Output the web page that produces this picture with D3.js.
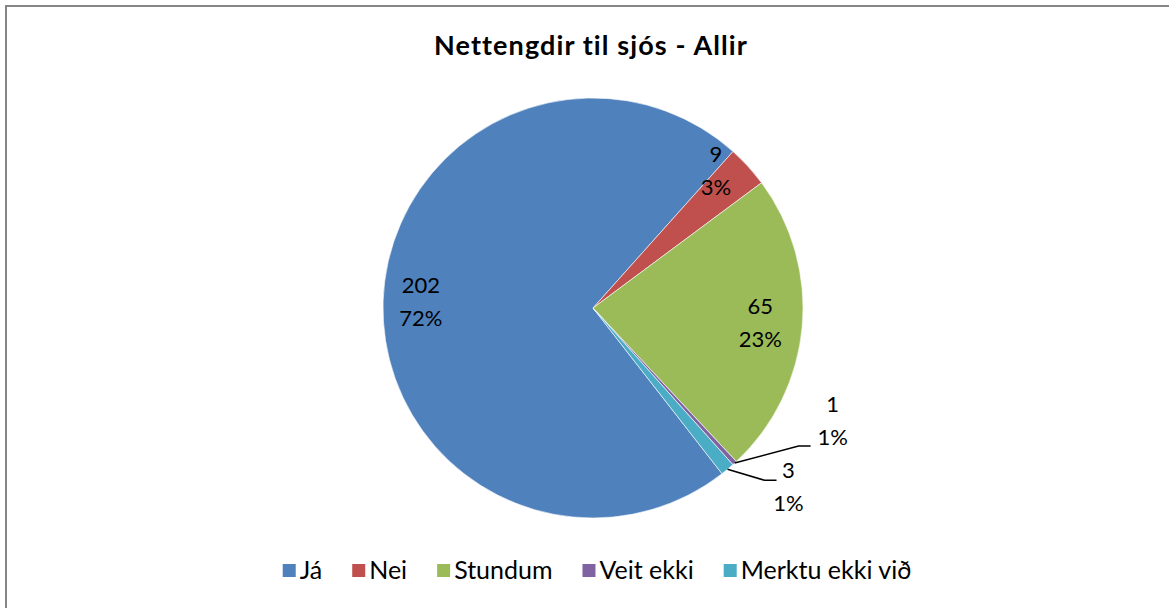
<!DOCTYPE html>
<html>
<head>
<meta charset="utf-8">
<script src="https://cdn.jsdelivr.net/npm/d3@7"></script>
<style>
  body { margin: 0; background: #fff; }
  svg { display: block; font-family: Lato, "Open Sans", sans-serif; }
</style>
</head>
<body>
<svg id="chart" width="1169" height="608"></svg>
<script>
const title = "Nettengdir til sjós - Allir";
const categories = ["Já", "Nei", "Stundum", "Veit ekki", "Merktu ekki við"];
const counts = [202, 9, 65, 1, 3];
const percentLabels = ["72%", "3%", "23%", "1%", "1%"];
const colors = ["#4F81BD", "#C0504D", "#9BBB59", "#8064A2", "#4BACC6"];

const width = 1169, height = 608;
const cx = 593, cy = 308, radius = 210;
const firstSliceAngle = 142.1; // degrees, clockwise from 12 o'clock

const svg = d3.select("#chart");

// chart area frame
svg.append("rect")
  .attr("x", 6).attr("y", 6)
  .attr("width", width + 20).attr("height", height + 20)
  .attr("fill", "#fff")
  .attr("stroke", "#868686")
  .attr("stroke-width", 2);

// title
svg.append("text")
  .attr("x", 591)
  .attr("y", 54.5)
  .attr("text-anchor", "middle")
  .attr("font-weight", "bold")
  .attr("font-size", 27)
  .attr("letter-spacing", 1.1)
  .text(title);

const data = categories.map((c, i) => ({ name: c, value: counts[i], pct: percentLabels[i], color: colors[i] }));

const pie = d3.pie()
  .sort(null)
  .value(d => d.value)
  .startAngle(firstSliceAngle * Math.PI / 180)
  .endAngle(firstSliceAngle * Math.PI / 180 + 2 * Math.PI);

const arc = d3.arc().innerRadius(0).outerRadius(radius);
const arcs = pie(data);

const g = svg.append("g").attr("transform", `translate(${cx},${cy})`);

g.selectAll("path")
  .data(arcs)
  .enter()
  .append("path")
  .attr("d", arc)
  .attr("fill", d => d.data.color)
  .attr("stroke", "#fff")
  .attr("stroke-width", 0.6);

// data labels
const midAngle = d => (d.startAngle + d.endAngle) / 2;
const polar = (a, r) => [Math.sin(a) * r, -Math.cos(a) * r];
const fontSize = 22, lineGap = 33;

// labels inside the slices (by slice index): radial factor and angle nudge in degrees
const inside = { 0: [0.82, 0], 1: [0.876, -5.7], 2: [0.8, 0] };
// labels outside with leader lines: elbow point and label centre, relative to the slice's edge point
const outside = {
  3: { elbow: [64, -17], end: [76, -17], label: [98, -42] },
  4: { elbow: [37, 11], end: [49, 11], label: [61, 18] }
};

arcs.forEach((d, i) => {
  const a = midAngle(d);
  let lx, ly;
  if (inside[i] !== undefined) {
    [lx, ly] = polar(a + inside[i][1] * Math.PI / 180, radius * inside[i][0]);
  } else {
    const [ex, ey] = polar(a, radius);
    const o = outside[i];
    g.append("polyline")
      .attr("points", [[ex, ey], [ex + o.elbow[0], ey + o.elbow[1]], [ex + o.end[0], ey + o.end[1]]].map(p => p.join(",")).join(" "))
      .attr("fill", "none")
      .attr("stroke", "#000")
      .attr("stroke-width", 1.5);
    lx = ex + o.label[0];
    ly = ey + o.label[1];
  }
  const t = g.append("text")
    .attr("text-anchor", "middle")
    .attr("font-size", fontSize)
    .attr("fill", "#000");
  t.append("tspan").attr("x", lx).attr("y", ly - lineGap / 2 + fontSize * 0.35).text(d.data.value);
  t.append("tspan").attr("x", lx).attr("y", ly + lineGap / 2 + fontSize * 0.35).text(d.data.pct);
});

// legend
const legend = svg.append("g").attr("transform", "translate(0,571)");
const items = legend.selectAll("g")
  .data(data)
  .enter()
  .append("g");

items.append("rect")
  .attr("width", 13).attr("height", 13)
  .attr("y", -7)
  .attr("fill", d => d.color);

items.append("text")
  .attr("x", 17)
  .attr("y", 8)
  .attr("font-size", 25)
  .text(d => d.name);

let xPos = 0;
const gap = 30;
items.each(function () {
  const w = this.getBBox().width;
  d3.select(this).attr("transform", `translate(${xPos},0)`);
  xPos += w + gap;
});
const legendWidth = xPos - gap;
legend.attr("transform", `translate(${597 - legendWidth / 2},571)`);
</script>
</body>
</html>
